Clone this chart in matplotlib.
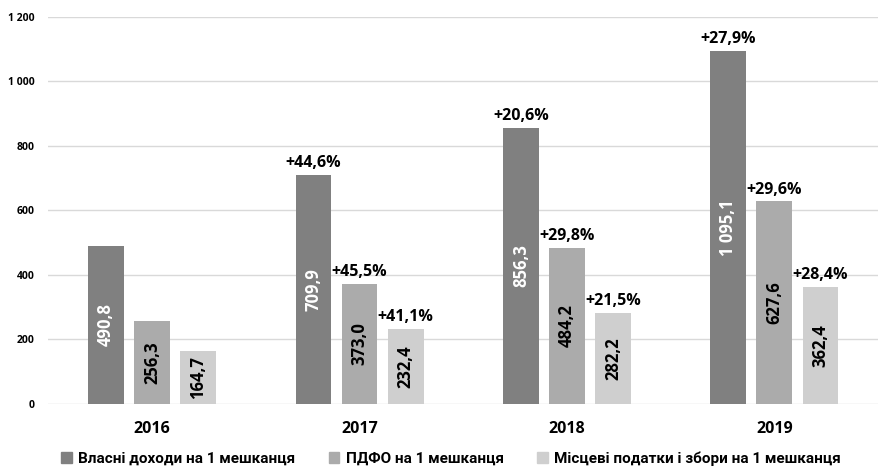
import numpy as np
import matplotlib.pyplot as plt
from matplotlib.patches import Patch

years = ['2016', '2017', '2018', '2019']
own_income = [490.8, 709.9, 856.3, 1095.1]
pdfo = [256.3, 373.0, 484.2, 627.6]
local_taxes = [164.7, 232.4, 282.2, 362.4]
own_growth = ['', '+44,6%', '+20,6%', '+27,9%']
pdfo_growth = ['', '+45,5%', '+29,8%', '+29,6%']
local_growth = ['', '+41,1%', '+21,5%', '+28,4%']
series_names = ['Власні доходи на 1 мешканця', 'ПДФО на 1 мешканця',
                'Місцеві податки і збори на 1 мешканця']
colors = ['#808080', '#ababab', '#cfcfcf']
text_colors = ['white', 'black', 'black']

plt.rcParams['font.family'] = ['Open Sans', 'DejaVu Sans']


def fmt(v):
    s = f'{v:,.1f}'.replace(',', ' ').replace('.', ',')
    return s


fig = plt.figure(figsize=(8.79, 4.68), dpi=100)
ax = fig.add_axes([0.055, 0.137, 0.944, 0.827])

x = np.arange(len(years))
width = 0.173
step = 0.222
series = [own_income, pdfo, local_taxes]
growths = [own_growth, pdfo_growth, local_growth]

for i, (vals, gr) in enumerate(zip(series, growths)):
    pos = x + (i - 1) * step
    ax.bar(pos, vals, width, color=colors[i], zorder=3)
    for p, v, g in zip(pos, vals, gr):
        ax.text(p, v / 2, fmt(v), rotation=90, ha='center', va='center',
                color=text_colors[i], fontsize=12, fontweight='bold', zorder=4)
        if g:
            ax.text(p, v + 12, g, ha='center', va='bottom', color='black',
                    fontsize=11.5, fontweight='bold', zorder=4)

ax.set_xlim(-0.5, 3.5)
ax.set_ylim(0, 1200)
ax.set_yticks(range(0, 1201, 200))
ax.set_yticklabels([fmt(t)[:-2] for t in range(0, 1201, 200)],
                   fontsize=7.5, fontweight='bold')
ax.set_xticks(x)
ax.set_xticklabels(years, fontsize=11.5, fontweight='bold')
ax.tick_params(axis='both', length=0)
ax.tick_params(axis='y', pad=10)
ax.tick_params(axis='x', pad=12)
ax.grid(axis='y', color='#d9d9d9', linewidth=1, zorder=0)
for s in ax.spines.values():
    s.set_visible(False)

handles = [Patch(color=c) for c in colors]
fig.legend(handles, series_names, loc='lower center', ncol=3,
           bbox_to_anchor=(0.513, -0.025), frameon=False,
           prop={'size': 11, 'weight': 'bold', 'family': ['Roboto', 'DejaVu Sans']},
           handlelength=0.7, handleheight=0.7, handletextpad=0.4, columnspacing=2.2)

fig.savefig('out.png', dpi=100)
